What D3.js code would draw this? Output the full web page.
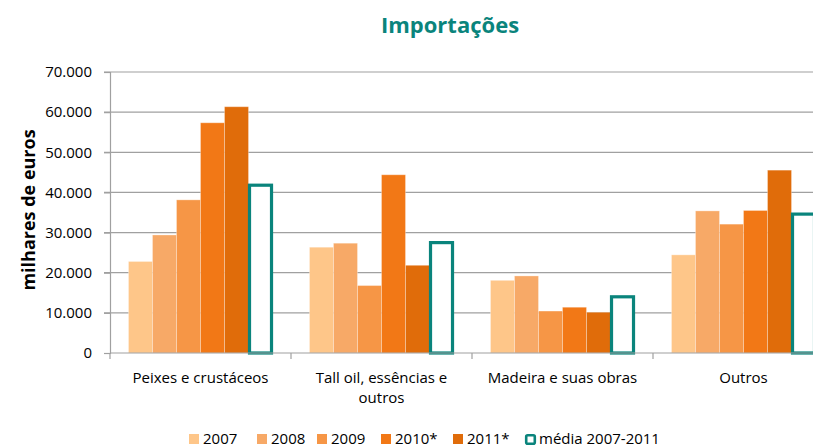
<!DOCTYPE html>
<html>
<head>
<meta charset="utf-8">
<script src="https://cdn.jsdelivr.net/npm/d3@7"></script>
<style>
  body { margin: 0; background: #fff; }
  svg { font-family: "Open Sans", Lato, sans-serif; }
</style>
</head>
<body>
<div id="canvas"></div>
<script>
const categories = [
    ["Peixes e crustáceos"],
    ["Tall oil, essências e", "outros"],
    ["Madeira e suas obras"],
    ["Outros"]
];
const years = ["2007", "2008", "2009", "2010*", "2011*"];
const v2007 = [22800, 26350, 18100, 24450];
const v2008 = [29400, 27350, 19200, 35400];
const v2009 = [38150, 16800, 10450, 32100];
const v2010 = [57350, 44400, 11400, 35500];
const v2011 = [61350, 21850, 10150, 45550];
const media = [41800, 27500, 14000, 34600];
const yTicks = [0, 10000, 20000, 30000, 40000, 50000, 60000, 70000];

const colors = ["#FEC689", "#F7A967", "#F69646", "#F27816", "#E06C0A"];
const teal = "#0A847C";

const width = 813, height = 447;
const margin = { top: 72, left: 110, bottom: 94, right: -21 };
const iwidth = width - margin.left - margin.right;
const iheight = height - margin.top - margin.bottom;

const svg = d3.select("#canvas").append("svg")
    .attr("width", width)
    .attr("height", height);

const g = svg.append("g").attr("transform", `translate(${margin.left},${margin.top})`);

const y = d3.scaleLinear().domain([0, 70000]).range([iheight, 0]);
const x = d3.scaleBand().domain(d3.range(categories.length)).range([0, iwidth]);
const series = [v2007, v2008, v2009, v2010, v2011];
const keys = d3.range(6);
const xs = d3.scaleBand().domain(keys).range([0, x.bandwidth()]).paddingOuter(0.77).paddingInner(0);

const fmt = d => d3.format(",")(d).replace(/,/g, ".");

// gridlines
g.append("g")
    .selectAll("line").data(yTicks.slice(1)).enter().append("line")
    .attr("x1", -6).attr("x2", iwidth)
    .attr("y1", d => y(d)).attr("y2", d => y(d))
    .attr("stroke", "#A0A0A0").attr("stroke-width", 1.2);

// y axis
const yAxis = g.append("g")
    .call(d3.axisLeft(y).tickValues(yTicks).tickFormat(fmt).tickSize(6).tickPadding(12));
yAxis.select(".domain").attr("stroke", "#A0A0A0").attr("stroke-width", 1.2);
yAxis.selectAll(".tick line").attr("stroke", "#A0A0A0").attr("stroke-width", 1.2);
yAxis.selectAll("text").attr("font-size", 15).attr("fill", "#000").attr("font-family", "Open Sans");

// bars
categories.forEach((c, i) => {
    const cg = g.append("g").attr("transform", `translate(${x(i)},0)`);
    cg.selectAll("rect.bar").data(series.map(s => s[i])).enter().append("rect")
        .attr("class", "bar")
        .attr("x", (d, j) => xs(j))
        .attr("width", xs.bandwidth())
        .attr("y", d => y(d))
        .attr("height", d => iheight - y(d))
        .attr("fill", (d, j) => colors[j])
        .attr("stroke", "rgba(255,255,255,0.3)")
        .attr("stroke-width", 1);
    cg.append("rect")
        .attr("x", xs(5) + 1)
        .attr("width", xs.bandwidth() - 2)
        .attr("y", y(media[i]))
        .attr("height", iheight - y(media[i]))
        .attr("fill", "#fff")
        .attr("stroke", teal)
        .attr("stroke-width", 3.2);
});

// x axis
const xAxis = g.append("g").attr("transform", `translate(0,${iheight})`);
xAxis.append("line").attr("x1", 0).attr("x2", iwidth).attr("stroke", "#A0A0A0").attr("stroke-width", 1.2);
xAxis.selectAll("line.tick").data(d3.range(categories.length + 1)).enter().append("line")
    .attr("class", "tick")
    .attr("x1", d => d * x.bandwidth()).attr("x2", d => d * x.bandwidth())
    .attr("y1", 0).attr("y2", 6)
    .attr("stroke", "#A0A0A0").attr("stroke-width", 1.2);
categories.forEach((c, i) => {
    const t = xAxis.append("text")
        .attr("text-anchor", "middle")
        .attr("font-size", 15)
        .attr("fill", "#000");
    c.forEach((line, k) => {
        t.append("tspan").attr("x", x(i) + x.bandwidth() / 2).attr("y", 30 + k * 20).text(line);
    });
});

// title
svg.append("text")
    .attr("x", 450).attr("y", 33)
    .attr("text-anchor", "middle")
    .attr("font-size", 22).attr("font-weight", "bold")
    .attr("fill", teal)
    .text("Importações");

// y axis title
svg.append("text")
    .attr("transform", "translate(35,210) rotate(-90)")
    .attr("text-anchor", "middle")
    .attr("font-size", 18).attr("font-weight", "bold")
    .attr("fill", "#000")
    .text("milhares de euros");

// legend
const legendItems = years.map((yr, j) => ({ label: yr, color: colors[j] }))
    .concat([{ label: "média 2007-2011", color: null }]);
const legendX = [189, 257, 317, 381, 453, 525];
const legend = svg.append("g").attr("transform", "translate(0,444)");
legendItems.forEach((d, j) => {
    const lg = legend.append("g").attr("transform", `translate(${legendX[j]},0)`);
    if (d.color) {
        lg.append("rect").attr("x", 0).attr("y", -10).attr("width", 10).attr("height", 10).attr("fill", d.color);
    } else {
        lg.append("rect").attr("x", 1.2).attr("y", -8.8).attr("width", 8.6).attr("height", 8.6)
            .attr("rx", 1.5)
            .attr("fill", "#fff").attr("stroke", teal).attr("stroke-width", 2.6);
    }
    lg.append("text").attr("x", 14).attr("y", 0).attr("font-size", 15).attr("fill", "#000").text(d.label);
});
</script>
</body>
</html>
